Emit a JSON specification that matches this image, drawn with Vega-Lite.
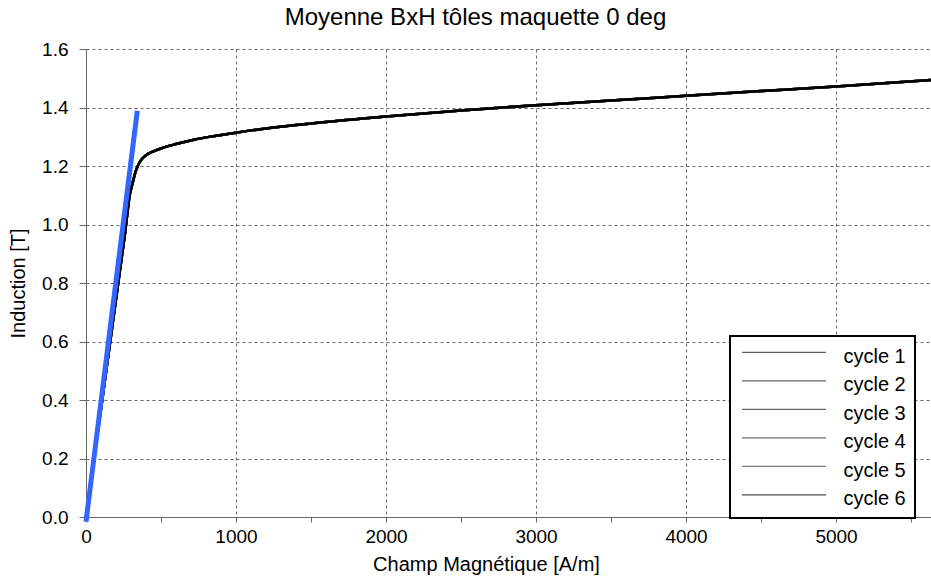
{
  "$schema": "https://vega.github.io/schema/vega-lite/v6.json",
  "width": 845,
  "height": 468,
  "padding": {"left": 86, "top": 49, "right": 0, "bottom": 65},
  "autosize": {"type": "none"},
  "background": "white",
  "config": {
    "font": "Liberation Sans",
    "view": {"stroke": null},
    "axis": {"domainColor": "#666666", "tickColor": "#666666", "labelColor": "#000000", "titleColor": "#000000", "titleFontWeight": "normal", "labelFontSize": 19, "titleFontSize": 20, "gridColor": "#666666", "gridDash": [3, 3], "gridWidth": 1}
  },
  "title": {"text": "Moyenne BxH tôles maquette 0 deg", "fontSize": 24, "fontWeight": "normal", "color": "#000000", "anchor": "middle", "dx": -33, "offset": 10},
  "datasets": {
    "curve": [
      {"cycle": "cycle 1", "H": 0, "B": 0}, {"cycle": "cycle 1", "H": 100, "B": 0.37}, {"cycle": "cycle 1", "H": 200, "B": 0.745}, {"cycle": "cycle 1", "H": 260, "B": 0.97}, {"cycle": "cycle 1", "H": 293, "B": 1.105}, {"cycle": "cycle 1", "H": 310, "B": 1.14}, {"cycle": "cycle 1", "H": 330, "B": 1.18}, {"cycle": "cycle 1", "H": 360, "B": 1.215}, {"cycle": "cycle 1", "H": 400, "B": 1.237}, {"cycle": "cycle 1", "H": 450, "B": 1.25}, {"cycle": "cycle 1", "H": 500, "B": 1.26}, {"cycle": "cycle 1", "H": 600, "B": 1.275}, {"cycle": "cycle 1", "H": 713, "B": 1.289}, {"cycle": "cycle 1", "H": 850, "B": 1.302}, {"cycle": "cycle 1", "H": 1000, "B": 1.314}, {"cycle": "cycle 1", "H": 1200, "B": 1.328}, {"cycle": "cycle 1", "H": 1500, "B": 1.345}, {"cycle": "cycle 1", "H": 2000, "B": 1.369}, {"cycle": "cycle 1", "H": 2500, "B": 1.39}, {"cycle": "cycle 1", "H": 3000, "B": 1.408}, {"cycle": "cycle 1", "H": 3500, "B": 1.424}, {"cycle": "cycle 1", "H": 4000, "B": 1.44}, {"cycle": "cycle 1", "H": 4500, "B": 1.456}, {"cycle": "cycle 1", "H": 5000, "B": 1.472}, {"cycle": "cycle 1", "H": 5633, "B": 1.494},
      {"cycle": "cycle 2", "H": 0, "B": 0}, {"cycle": "cycle 2", "H": 100, "B": 0.37}, {"cycle": "cycle 2", "H": 200, "B": 0.745}, {"cycle": "cycle 2", "H": 260, "B": 0.97}, {"cycle": "cycle 2", "H": 293, "B": 1.105}, {"cycle": "cycle 2", "H": 310, "B": 1.14}, {"cycle": "cycle 2", "H": 330, "B": 1.18}, {"cycle": "cycle 2", "H": 360, "B": 1.215}, {"cycle": "cycle 2", "H": 400, "B": 1.237}, {"cycle": "cycle 2", "H": 450, "B": 1.25}, {"cycle": "cycle 2", "H": 500, "B": 1.26}, {"cycle": "cycle 2", "H": 600, "B": 1.275}, {"cycle": "cycle 2", "H": 713, "B": 1.289}, {"cycle": "cycle 2", "H": 850, "B": 1.302}, {"cycle": "cycle 2", "H": 1000, "B": 1.314}, {"cycle": "cycle 2", "H": 1200, "B": 1.328}, {"cycle": "cycle 2", "H": 1500, "B": 1.345}, {"cycle": "cycle 2", "H": 2000, "B": 1.369}, {"cycle": "cycle 2", "H": 2500, "B": 1.39}, {"cycle": "cycle 2", "H": 3000, "B": 1.408}, {"cycle": "cycle 2", "H": 3500, "B": 1.424}, {"cycle": "cycle 2", "H": 4000, "B": 1.44}, {"cycle": "cycle 2", "H": 4500, "B": 1.456}, {"cycle": "cycle 2", "H": 5000, "B": 1.472}, {"cycle": "cycle 2", "H": 5633, "B": 1.494},
      {"cycle": "cycle 3", "H": 0, "B": 0}, {"cycle": "cycle 3", "H": 100, "B": 0.37}, {"cycle": "cycle 3", "H": 200, "B": 0.745}, {"cycle": "cycle 3", "H": 260, "B": 0.97}, {"cycle": "cycle 3", "H": 293, "B": 1.105}, {"cycle": "cycle 3", "H": 310, "B": 1.14}, {"cycle": "cycle 3", "H": 330, "B": 1.18}, {"cycle": "cycle 3", "H": 360, "B": 1.215}, {"cycle": "cycle 3", "H": 400, "B": 1.237}, {"cycle": "cycle 3", "H": 450, "B": 1.25}, {"cycle": "cycle 3", "H": 500, "B": 1.26}, {"cycle": "cycle 3", "H": 600, "B": 1.275}, {"cycle": "cycle 3", "H": 713, "B": 1.289}, {"cycle": "cycle 3", "H": 850, "B": 1.302}, {"cycle": "cycle 3", "H": 1000, "B": 1.314}, {"cycle": "cycle 3", "H": 1200, "B": 1.328}, {"cycle": "cycle 3", "H": 1500, "B": 1.345}, {"cycle": "cycle 3", "H": 2000, "B": 1.369}, {"cycle": "cycle 3", "H": 2500, "B": 1.39}, {"cycle": "cycle 3", "H": 3000, "B": 1.408}, {"cycle": "cycle 3", "H": 3500, "B": 1.424}, {"cycle": "cycle 3", "H": 4000, "B": 1.44}, {"cycle": "cycle 3", "H": 4500, "B": 1.456}, {"cycle": "cycle 3", "H": 5000, "B": 1.472}, {"cycle": "cycle 3", "H": 5633, "B": 1.494},
      {"cycle": "cycle 4", "H": 0, "B": 0}, {"cycle": "cycle 4", "H": 100, "B": 0.37}, {"cycle": "cycle 4", "H": 200, "B": 0.745}, {"cycle": "cycle 4", "H": 260, "B": 0.97}, {"cycle": "cycle 4", "H": 293, "B": 1.105}, {"cycle": "cycle 4", "H": 310, "B": 1.14}, {"cycle": "cycle 4", "H": 330, "B": 1.18}, {"cycle": "cycle 4", "H": 360, "B": 1.215}, {"cycle": "cycle 4", "H": 400, "B": 1.237}, {"cycle": "cycle 4", "H": 450, "B": 1.25}, {"cycle": "cycle 4", "H": 500, "B": 1.26}, {"cycle": "cycle 4", "H": 600, "B": 1.275}, {"cycle": "cycle 4", "H": 713, "B": 1.289}, {"cycle": "cycle 4", "H": 850, "B": 1.302}, {"cycle": "cycle 4", "H": 1000, "B": 1.314}, {"cycle": "cycle 4", "H": 1200, "B": 1.328}, {"cycle": "cycle 4", "H": 1500, "B": 1.345}, {"cycle": "cycle 4", "H": 2000, "B": 1.369}, {"cycle": "cycle 4", "H": 2500, "B": 1.39}, {"cycle": "cycle 4", "H": 3000, "B": 1.408}, {"cycle": "cycle 4", "H": 3500, "B": 1.424}, {"cycle": "cycle 4", "H": 4000, "B": 1.44}, {"cycle": "cycle 4", "H": 4500, "B": 1.456}, {"cycle": "cycle 4", "H": 5000, "B": 1.472}, {"cycle": "cycle 4", "H": 5633, "B": 1.494},
      {"cycle": "cycle 5", "H": 0, "B": 0}, {"cycle": "cycle 5", "H": 100, "B": 0.37}, {"cycle": "cycle 5", "H": 200, "B": 0.745}, {"cycle": "cycle 5", "H": 260, "B": 0.97}, {"cycle": "cycle 5", "H": 293, "B": 1.105}, {"cycle": "cycle 5", "H": 310, "B": 1.14}, {"cycle": "cycle 5", "H": 330, "B": 1.18}, {"cycle": "cycle 5", "H": 360, "B": 1.215}, {"cycle": "cycle 5", "H": 400, "B": 1.237}, {"cycle": "cycle 5", "H": 450, "B": 1.25}, {"cycle": "cycle 5", "H": 500, "B": 1.26}, {"cycle": "cycle 5", "H": 600, "B": 1.275}, {"cycle": "cycle 5", "H": 713, "B": 1.289}, {"cycle": "cycle 5", "H": 850, "B": 1.302}, {"cycle": "cycle 5", "H": 1000, "B": 1.314}, {"cycle": "cycle 5", "H": 1200, "B": 1.328}, {"cycle": "cycle 5", "H": 1500, "B": 1.345}, {"cycle": "cycle 5", "H": 2000, "B": 1.369}, {"cycle": "cycle 5", "H": 2500, "B": 1.39}, {"cycle": "cycle 5", "H": 3000, "B": 1.408}, {"cycle": "cycle 5", "H": 3500, "B": 1.424}, {"cycle": "cycle 5", "H": 4000, "B": 1.44}, {"cycle": "cycle 5", "H": 4500, "B": 1.456}, {"cycle": "cycle 5", "H": 5000, "B": 1.472}, {"cycle": "cycle 5", "H": 5633, "B": 1.494},
      {"cycle": "cycle 6", "H": 0, "B": 0}, {"cycle": "cycle 6", "H": 100, "B": 0.37}, {"cycle": "cycle 6", "H": 200, "B": 0.745}, {"cycle": "cycle 6", "H": 260, "B": 0.97}, {"cycle": "cycle 6", "H": 293, "B": 1.105}, {"cycle": "cycle 6", "H": 310, "B": 1.14}, {"cycle": "cycle 6", "H": 330, "B": 1.18}, {"cycle": "cycle 6", "H": 360, "B": 1.215}, {"cycle": "cycle 6", "H": 400, "B": 1.237}, {"cycle": "cycle 6", "H": 450, "B": 1.25}, {"cycle": "cycle 6", "H": 500, "B": 1.26}, {"cycle": "cycle 6", "H": 600, "B": 1.275}, {"cycle": "cycle 6", "H": 713, "B": 1.289}, {"cycle": "cycle 6", "H": 850, "B": 1.302}, {"cycle": "cycle 6", "H": 1000, "B": 1.314}, {"cycle": "cycle 6", "H": 1200, "B": 1.328}, {"cycle": "cycle 6", "H": 1500, "B": 1.345}, {"cycle": "cycle 6", "H": 2000, "B": 1.369}, {"cycle": "cycle 6", "H": 2500, "B": 1.39}, {"cycle": "cycle 6", "H": 3000, "B": 1.408}, {"cycle": "cycle 6", "H": 3500, "B": 1.424}, {"cycle": "cycle 6", "H": 4000, "B": 1.44}, {"cycle": "cycle 6", "H": 4500, "B": 1.456}, {"cycle": "cycle 6", "H": 5000, "B": 1.472}, {"cycle": "cycle 6", "H": 5633, "B": 1.494}
    ],
    "fit": [
      {"H": 0, "B": -0.016},
      {"H": 342, "B": 1.389}
    ]
  },
  "layer": [
    {
      "data": {"name": "curve"},
      "mark": {"type": "line", "strokeWidth": 2.5, "interpolate": "monotone"},
      "encoding": {
        "x": {
          "field": "H", "type": "quantitative",
          "scale": {"domain": [0, 5633], "nice": false, "zero": false},
          "axis": {
            "title": "Champ Magnétique [A/m]",
            "values": [0, 250, 500, 750, 1000, 1250, 1500, 1750, 2000, 2250, 2500, 2750, 3000, 3250, 3500, 3750, 4000, 4250, 4500, 4750, 5000, 5250, 5500],
            "labelExpr": "datum.value % 1000 === 0 ? datum.label : ''",
            "format": "d",
            "tickSize": 5,
            "gridOpacity": {"condition": {"test": "datum.value % 1000 === 0 && datum.value > 0", "value": 1}, "value": 0},
            "labelPadding": 5,
            "labelFlush": false,
            "labelOverlap": false,
            "titleX": 400,
            "titleY": 37,
            "titleBaseline": "top"
          }
        },
        "y": {
          "field": "B", "type": "quantitative",
          "scale": {"domain": [0, 1.6], "nice": false},
          "axis": {
            "title": "Induction [T]",
            "values": [0, 0.1, 0.2, 0.3, 0.4, 0.5, 0.6, 0.7, 0.8, 0.9, 1.0, 1.1, 1.2, 1.3, 1.4, 1.5, 1.6],
            "labelExpr": "round(datum.value * 10) % 2 === 0 ? format(datum.value, '.1f') : ''",
            "tickSize": 7,
            "gridOpacity": {"condition": {"test": "round(datum.value * 10) % 2 === 0 && datum.value > 0", "value": 1}, "value": 0},
            "labelPadding": 11,
            "labelFlush": false,
            "labelOverlap": false,
            "titleX": -68,
            "titleY": 234,
            "titleAngle": -90,
            "titleAlign": "center",
            "titleBaseline": "middle"
          }
        },
        "color": {
          "field": "cycle", "type": "nominal",
          "scale": {"domain": ["cycle 1", "cycle 2", "cycle 3", "cycle 4", "cycle 5", "cycle 6"], "range": ["#1a1a1a", "#202020", "#262626", "#3a3a3a", "#444444", "#000000"]},
          "legend": {
            "title": null,
            "orient": "none",
            "legendX": 644,
            "legendY": 287,
            "direction": "vertical",
            "fillColor": "white",
            "strokeColor": "#000000",
            "padding": 9,
            "symbolType": "M-4,-0.4H4",
            "symbolSize": 441,
            "symbolOffset": 33.5,
            "symbolStrokeWidth": 1.2,
            "symbolOpacity": 0.7,
            "labelFontSize": 20,
            "labelColor": "#000000",
            "labelOffset": 48,
            "rowPadding": 6.5,
            "encode": {"legend": {"update": {"strokeWidth": {"value": 2}}}}
          }
        }
      }
    },
    {
      "data": {"name": "fit"},
      "mark": {"type": "line", "color": "#3366ff", "strokeWidth": 5},
      "encoding": {
        "x": {"field": "H", "type": "quantitative"},
        "y": {"field": "B", "type": "quantitative"}
      }
    }
  ]
}
